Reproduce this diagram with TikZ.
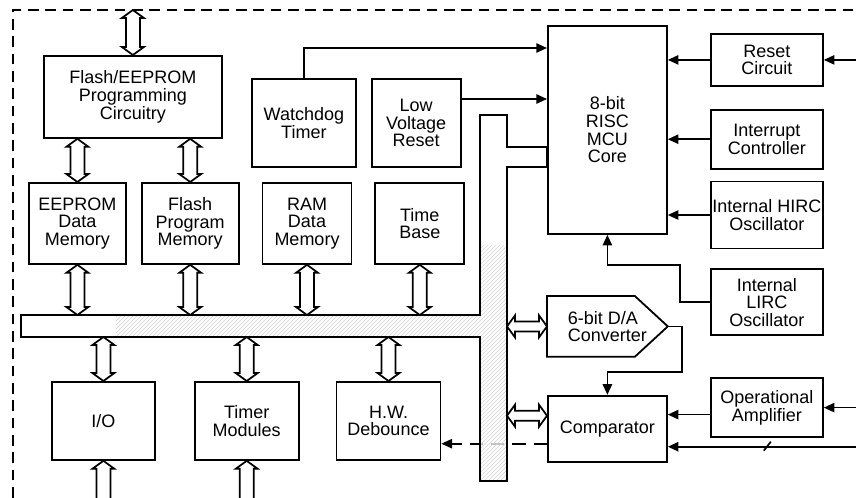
\documentclass[tikz,border=0pt]{standalone}
\usepackage{fontspec}
\setmainfont{Liberation Sans}
\usetikzlibrary{positioning, calc, arrows.meta, patterns}

\newcommand{\busshape}{(21,315) -- (480,315) -- (480,115) -- (507,115) -- (507,147) -- (547,147) -- (547,167) -- (507,167) -- (507,481) -- (480,481) -- (480,337) -- (21,337) -- cycle}

\begin{document}
\begin{tikzpicture}[
x=0.75pt, y=-0.75pt,
blk/.style={rectangle, draw=black, line width=1.35pt, inner sep=1pt, align=center, font=\fontsize{13.5}{13.2}\selectfont},
sig/.style={line width=1.3pt, -{Triangle[length=8pt, width=7pt]}},
dblarr/.style={draw=black, fill=white, line width=1.3pt, to path={
	-- ($(\tikztostart)!6pt!(\tikztotarget)!8.25pt!90:(\tikztotarget)$)
	-- ($(\tikztostart)!6pt!(\tikztotarget)!#1!90:(\tikztotarget)$)
	-- ($(\tikztotarget)!6pt!(\tikztostart)!#1!-90:(\tikztostart)$)
	-- ($(\tikztotarget)!6pt!(\tikztostart)!8.25pt!-90:(\tikztostart)$)
	-- (\tikztotarget)
	-- ($(\tikztotarget)!6pt!(\tikztostart)!8.25pt!90:(\tikztostart)$)
	-- ($(\tikztotarget)!6pt!(\tikztostart)!#1!90:(\tikztostart)$)
	-- ($(\tikztostart)!6pt!(\tikztotarget)!#1!-90:(\tikztotarget)$)
	-- ($(\tikztostart)!6pt!(\tikztotarget)!8.25pt!-90:(\tikztotarget)$)
	-- cycle}},
dblarr/.default=5.25pt
]
\useasboundingbox (0,0) rectangle (856,497);
\clip (0,0) rectangle (856,497);

%Frame
\coordinate (frametop) at (13,10);
\coordinate (framebot) at (13,515);
\coordinate (edge) at (860,0);
\draw[line width=1.3pt, dash pattern=on 8pt off 5pt] (framebot) -- (frametop) -- (870,10);

%Nodes
\node[blk, minimum width=133.5pt, minimum height=61.5pt, anchor=north west]	(prog)		at (43,55)					{Flash/EEPROM\\ Programming\\ Circuitry};
\node[blk, minimum width=72.75pt, minimum height=60.75pt, anchor=north west]	(eeprom)	at (28,182)					{EEPROM\\ Data\\ Memory};
\node[blk, minimum width=72.75pt, minimum height=60.75pt]	(flash)		[right=10.5pt of eeprom]	{Flash\\ Program\\ Memory};
\node[blk, minimum width=66.75pt, minimum height=60.75pt]	(ram)		[right=16.5pt of flash]		{RAM\\ Data\\ Memory};
\node[blk, minimum width=66.75pt, minimum height=60.75pt]	(timebase)	[right=16.5pt of ram]		{Time\\ Base};
\node[blk, minimum width=78pt, minimum height=66pt, anchor=north west]		(wdt)		at (251,78)					{Watchdog\\ Timer};
\node[blk, minimum width=66.75pt, minimum height=66pt]		(lvr)		[right=10.5pt of wdt]		{Low\\ Voltage\\ Reset};
\node[blk, minimum width=89.25pt, minimum height=156pt, anchor=north west]	(cpu)		at (547,25)					{8-bit\\ RISC\\ MCU\\ Core};
\node[blk, minimum width=84pt, minimum height=39pt, anchor=north west]		(reset)		at (710,33)					{Reset\\ Circuit};
\node[blk, minimum width=84pt, minimum height=44.25pt]		(intc)		[below=16.5pt of reset]		{Interrupt\\ Controller};
\node[blk, minimum width=84pt, minimum height=50.25pt]		(hirc)		[below=8.25pt of intc]		{Internal HIRC\\ Oscillator};
\node[blk, minimum width=84pt, minimum height=49.5pt]		(lirc)		[below=14.25pt of hirc]		{Internal\\ LIRC\\ Oscillator};
\node[blk, minimum width=84pt, minimum height=44.25pt]		(opamp)		[below=30.75pt of lirc]		{Operational\\ Amplifier};
\node[blk, draw=none, align=left, minimum width=89.25pt, minimum height=44.25pt, anchor=north west]	(dac)	at (547,296)	{6-bit D/A\\ Converter};
\node[blk, minimum width=89.25pt, minimum height=49.5pt]	(comp)		[below=28.5pt of dac]		{Comparator};
\node[blk, minimum width=77.25pt, minimum height=58.5pt, anchor=north west]	(io)		at (51,381)					{I/O};
\node[blk, minimum width=78pt, minimum height=58.5pt]		(timer)		[right=28.5pt of io]		{Timer\\ Modules};
\node[blk, minimum width=78pt, minimum height=58.5pt]		(hwdb)		[right=27pt of timer]		{H.W.\\ Debounce};

\draw[line width=1.35pt] (dac.north west) -- ($(dac.north east)+(-33,0)$) -- (dac.east) -- ($(dac.south east)+(-33,0)$) -- (dac.south west) -- cycle;

%Bus
\coordinate (bustop) at (0,315);
\coordinate (busbot) at (0,337);
\coordinate (busr) at (507,0);
\draw[sig, dash pattern=on 10pt off 6pt] ($(comp.west)+(0,15)$) coordinate (cmpout) -- (cmpout -| hwdb.east);
\fill[white, fill opacity=0.75] \busshape;
\begin{scope}
\clip \busshape;
\fill[pattern=north east lines, pattern color=gray!35] (116,245) rectangle (510,485);
\end{scope}
\draw[line width=1.35pt] \busshape;

%Lines
\draw[dblarr] (prog.north |- frametop)		to	(prog.north);
\draw[dblarr] (eeprom.north |- prog.south)	to	(eeprom.north);
\draw[dblarr] (flash.north |- prog.south)	to	(flash.north);
\draw[dblarr] (eeprom.south)				to	(eeprom.south |- bustop);
\draw[dblarr] (flash.south)					to	(flash.south |- bustop);
\draw[dblarr] (ram.south)					to	(ram.south |- bustop);
\draw[dblarr] (timebase.south)				to	(timebase.south |- bustop);
\draw[dblarr] (io.north |- busbot)			to	(io.north);
\draw[dblarr] (timer.north |- busbot)		to	(timer.north);
\draw[dblarr] (hwdb.north |- busbot)		to	(hwdb.north);
\draw[dblarr] (io.south)					to	(io.south |- framebot);
\draw[dblarr] (timer.south)					to	(timer.south |- framebot);
\draw[dblarr=3.75pt] (dac.west -| busr)		to	(dac.west);
\coordinate (cmpin) at ($(comp.west)+(0,-13)$);
\draw[dblarr=3.75pt] (cmpin -| busr)		to	(cmpin);

\draw[sig] (wdt.north)		|-	($(cpu.north west)+(0,23)$);
\draw[sig] ($(lvr.north east)+(0,21)$) coordinate (lvrout)	--	(lvrout -| cpu.west);
\draw[sig] (reset.west)		--	(reset.west -| cpu.east);
\draw[sig] (intc.west)		--	(intc.west -| cpu.east);
\draw[sig] (hirc.west)		--	(hirc.west -| cpu.east);
\draw[sig] (lirc.west)		--	+(-30,0)	|-	($(cpu.south)+(0,30)$) -- (cpu.south);
\draw[sig] (reset.east -| edge)	--	(reset.east);
\draw[sig] (opamp.east -| edge)	--	(opamp.east);
\draw[sig] ($(opamp.west)+(0,7)$) coordinate (oaout)	--	(oaout -| comp.east);
\draw[sig] (dac.east)		--	+(14,0)	|-	($(comp.north)+(0,-23)$) -- (comp.north);
\coordinate (cmpext) at ($(comp.east)+(0,18)$);
\draw[sig] (cmpext -| edge)	--	(cmpext);
\draw[line width=1.3pt] ($(cmpext)+(96,4)$) -- +(7,-9);

\end{tikzpicture}
\end{document}
